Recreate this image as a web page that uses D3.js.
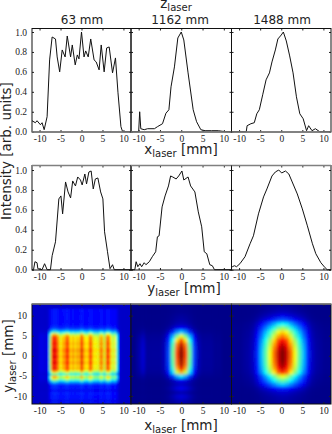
<!DOCTYPE html>
<html>
<head>
<meta charset="utf-8">
<script src="https://cdn.jsdelivr.net/npm/d3@7"></script>
<style>
  html, body { margin: 0; padding: 0; background: #fff; }
  svg { display: block; }
  .tick text { font-family: "Liberation Serif", serif; font-size: 9.5px; fill: #222; }
  .label { font-family: "DejaVu Sans", sans-serif; font-size: 13.5px; fill: #222; }
  .title { font-family: "DejaVu Sans", sans-serif; font-size: 12px; fill: #222; }
  .profile { fill: none; stroke: #111; stroke-width: 1; }
</style>
</head>
<body>
<script>
// horizontal profiles, top row
var x63 = [-11.8,-11,-10.6,-9.8,-9.4,-8.9,-8.2,-7.6,-7,-6.2,-5.8,-5.2,-4.6,-3.9,-3.4,-2.6,-2.2,-1.5,-1,-0.6,0,0.6,1,1.6,2.2,3,3.5,4.2,4.7,5.4,6,6.6,7.4,8.1,8.7,9.4,9.8,11.8];
var i63 = [0.11,0.09,0.11,0.07,0.09,0.02,0.15,0.72,0.95,0.93,0.75,0.6,0.82,0.75,0.96,0.75,0.87,0.67,0.77,0.73,1,0.75,0.81,0.75,0.93,0.72,0.7,0.62,0.87,0.6,0.84,0.85,0.59,0.74,0.39,0.05,0,0];
var x1162 = [-11.8,-10,-9.76,-9.5,-8.7,-7.9,-7.1,-6.3,-5.6,-4.4,-3.6,-2.9,-2.4,-1.6,-0.8,0,0.6,1.6,2.8,3.6,4.6,5.6,7.1,8.7,10.3,11.8];
var i1162 = [0,0,0.2,0.03,0.02,0.03,0.03,0.03,0.05,0.08,0.185,0.22,0.45,0.65,0.94,1,0.92,0.59,0.22,0.1,0.02,0.01,0.01,0.01,0,0];
var x1488 = [-11.8,-8.3,-8.1,-7.2,-6.4,-5.8,-5.2,-4.4,-3.6,-2.8,-2.2,-1.4,-0.8,0,0.5,1.2,2,2.8,3.6,4.4,5.2,6,6.5,7.3,8.1,9.1,11.8];
var i1488 = [0,0,0.06,0.08,0.09,0.18,0.22,0.37,0.52,0.59,0.7,0.82,0.93,0.97,1,0.91,0.76,0.59,0.35,0.18,0.13,0.01,0.06,0.01,0.03,0,0];

// vertical profiles, middle row
var y63 = [-11.8,-11.44,-11.1,-10.6,-10.4,-9.4,-8.8,-8.2,-7.4,-7,-6.2,-5.4,-4.9,-4.5,-3.8,-3.2,-2.6,-2.1,-1.44,-0.9,-0.24,0.16,0.8,1.2,1.76,2.3,2.8,3.3,3.9,4.56,5.1,5.5,6.2,6.8,7.4,7.8,11.8];
var j63 = [0,0,0.08,0.07,0.01,0,0.06,0,0,0.14,0.28,0.71,0.74,0.56,0.88,0.78,0.72,0.89,0.84,0.93,0.9,0.85,0.96,0.86,0.98,0.99,0.81,0.91,0.92,0.78,0.71,0.38,0.18,0.01,0.05,0,0];
var y1162 = [-11.8,-10.9,-10.6,-10.2,-9.7,-9.3,-8.7,-8.3,-7.5,-6.8,-6,-5.6,-5.2,-4.5,-3.8,-3,-2.5,-2,-1.2,-0.6,0.16,0.6,1.6,2.2,3.2,4,4.8,5.4,6,6.7,7.3,7.8,11.8];
var j1162 = [0,0,0.08,0.03,0.06,0.03,0.07,0.05,0.08,0.13,0.18,0.33,0.34,0.63,0.74,0.84,0.94,0.93,0.91,0.94,0.99,0.9,0.93,0.84,0.78,0.58,0.43,0.18,0.16,0.05,0.04,0,0];
var y1488 = [-11.8,-11.6,-11.1,-10.6,-9.8,-8.6,-7.4,-6.6,-5.4,-4.2,-3.4,-2.2,-1.4,-0.6,0.1,1,1.8,2.6,3.8,5,6.2,7.4,8.2,9.4,10.4,10.9,11.8];
var j1488 = [0.03,0.03,0.04,0.03,0.06,0.13,0.26,0.34,0.56,0.73,0.81,0.94,0.98,1,0.97,0.99,0.96,0.88,0.76,0.61,0.44,0.26,0.16,0.07,0.02,0,0];

var gridFine = [-11.5,-11,-10.5,-10,-9.5,-9,-8.5,-8,-7.5,-7,-6.5,-6,-5.5,-5,-4.5,-4,-3.5,-3,-2.5,-2,-1.5,-1,-0.5,0,0.5,1,1.5,2,2.5,3,3.5,4,4.5,5,5.5,6,6.5,7,7.5,8,8.5,9,9.5,10,10.5,11,11.5];
var gridCoarse = [-12,-11,-10,-9,-8,-7,-6,-5,-4,-3,-2,-1,0,1,2,3,4,5,6,7,8,9,10,11,12];
var col63 = [0,0,0,0.03,0.04,0.03,0.02,0.08,0.55,0.9,1,0.95,0.82,0.68,0.78,0.8,0.95,0.85,0.72,0.8,0.72,0.78,0.75,1,0.8,0.72,0.72,0.92,0.82,0.68,0.7,0.65,0.82,0.8,0.62,0.88,0.9,0.72,0.6,0.7,0.42,0.05,0,0,0,0,0];
var row63 = [0.1,0.04,0.1,0.08,0.1,0.1,0.05,0.1,0.1,0.12,0.25,0.42,0.6,0.66,0.4,0.6,0.74,0.83,0.78,0.82,0.85,0.8,0.82,0.86,0.8,0.83,0.85,0.82,0.78,0.82,0.8,0.78,0.78,0.74,0.62,0.38,0.22,0.12,0.1,0.08,0.08,0.08,0.08,0.08,0.08,0.08,0.08];
var col1162 = [0,0,0.03,0.07,0.02,0.02,0.02,0.02,0.05,0.18,0.47,0.8,1,0.8,0.47,0.18,0.05,0.02,0.02,0.02,0.01,0.01,0,0,0];
var row1162 = [0.03,0.05,0.08,0.04,0.1,0.06,0.1,0.35,0.7,0.88,0.95,0.97,1,1,0.97,0.92,0.8,0.6,0.32,0.12,0.05,0.03,0.02,0.01,0.01];
var col1488 = [0.01,0.01,0.01,0.02,0.03,0.06,0.15,0.3,0.45,0.6,0.76,0.92,1,0.92,0.76,0.6,0.45,0.3,0.15,0.06,0.03,0.02,0.01,0.01,0.01];
var row1488 = [0.02,0.03,0.04,0.07,0.15,0.32,0.47,0.6,0.83,0.92,0.97,0.99,1,1,0.97,0.92,0.86,0.75,0.66,0.52,0.375,0.2,0.1,0.05,0.03];

var titles = ["63 mm", "1162 mm", "1488 mm"];
var xTicks = [-10, -5, 0, 5, 10];
var intensityTicks = [0, 0.2, 0.4, 0.6, 0.8, 1];
var imageTicks = [-10, -5, 0, 5, 10];
var jetStops = ["#00007f", "#0000ff", "#00ffff", "#ffff00", "#ff0000", "#7f0000"];

var svg = d3.select("body").append("svg")
    .attr("width", 332)
    .attr("height", 434);

// set the panel columns and rows
var colLeft = [32, 131, 231.5],
    colRight = [131, 231.5, 331],
    rowTop = [28.5, 165.5, 304],
    rowBottom = [132, 270, 404];

var jet = d3.scaleLinear()
    .domain([0, 0.125, 0.375, 0.625, 0.875, 1])
    .range(jetStops)
    .clamp(true);

function xScale(c) {
  return d3.scaleLinear().domain([-11.8, 11.8]).range([colLeft[c], colRight[c]]);
}

// plain hyphen in the negative labels, as in the original
function plain(d) { return String(d); }

// ticks point into the panel on all four sides
function frame(c, r, x, y, yTicks, showY) {
  var g = svg.append("g");
  var h = rowBottom[r] - rowTop[r], w = colRight[c] - colLeft[c];

  g.append("g").attr("transform", "translate(0," + rowBottom[r] + ")")
      .call(d3.axisBottom(x).tickValues(xTicks).tickFormat(plain).tickSizeInner(-2).tickSizeOuter(0).tickPadding(3));
  g.append("g").attr("transform", "translate(0," + rowTop[r] + ")")
      .call(d3.axisTop(x).tickValues(xTicks).tickFormat("").tickSizeInner(-2).tickSizeOuter(0));
  var left = d3.axisLeft(y).tickValues(yTicks).tickSizeInner(-2).tickSizeOuter(0).tickPadding(5);
  left.tickFormat(showY ? (r == 2 ? plain : d3.format(".1f")) : "");
  g.append("g").attr("transform", "translate(" + colLeft[c] + ",0)").call(left);
  g.append("g").attr("transform", "translate(" + colRight[c] + ",0)")
      .call(d3.axisRight(y).tickValues(yTicks).tickFormat("").tickSizeInner(-2).tickSizeOuter(0));

  g.selectAll(".domain").remove();
  g.selectAll(".tick line").attr("stroke", "#222");

  g.append("rect")
      .attr("x", colLeft[c]).attr("y", rowTop[r])
      .attr("width", w).attr("height", h)
      .attr("fill", "none").attr("stroke", "#111").attr("stroke-width", 1);

  // the original has washed out grey edges here
  var greyY = r == 0 ? rowBottom[r] : rowTop[r];
  g.append("line")
      .attr("x1", colLeft[c]).attr("x2", colRight[c])
      .attr("y1", greyY).attr("y2", greyY)
      .attr("stroke", "#808080").attr("stroke-width", 1.5);
}

function profile(c, r, xs, vals) {
  var x = xScale(c);
  var y = d3.scaleLinear().domain([0, 1]).range([rowBottom[r] - 0.3, rowBottom[r] - 100]);
  var line = d3.line()
      .x(function(d, i) { return x(xs[i]); })
      .y(function(d) { return y(d); });
  svg.append("path")
      .datum(vals)
      .attr("class", "profile")
      .attr("d", line);
  frame(c, r, x, y, intensityTicks, c == 0);
}

profile(0, 0, x63, i63);
profile(1, 0, x1162, i1162);
profile(2, 0, x1488, i1488);
profile(0, 1, y63, j63);
profile(1, 1, y1162, j1162);
profile(2, 1, y1488, j1488);

// beam images, column times row on top of a floor colour
var defs = svg.append("defs");

function image(c, gridX, gridY, cols, rows, floor, blur, shiftX) {
  var x = xScale(c);
  var y = d3.scaleLinear().domain([-12, 12.9]).range([rowBottom[2], rowTop[2]]);
  var w = colRight[c] - colLeft[c], h = rowBottom[2] - rowTop[2];

  defs.append("clipPath").attr("id", "clip" + c)
    .append("rect").attr("x", colLeft[c]).attr("y", rowTop[2]).attr("width", w).attr("height", h);
  defs.append("filter").attr("id", "blur" + c)
      .attr("filterUnits", "userSpaceOnUse")
      .attr("x", colLeft[c] - 10).attr("y", rowTop[2] - 10)
      .attr("width", w + 20).attr("height", h + 20)
    .append("feGaussianBlur").attr("stdDeviation", blur);

  var holder = svg.append("g").attr("clip-path", "url(#clip" + c + ")");
  holder.append("rect")
      .attr("x", colLeft[c]).attr("y", rowTop[2]).attr("width", w).attr("height", h)
      .attr("fill", jet(floor));

  var cells = [];
  gridY.forEach(function(gy, j) {
    gridX.forEach(function(gx, i) {
      cells.push({x: gx, y: gy, v: floor + cols[i] * rows[j]});
    });
  });

  var cw = x(gridX[1]) - x(gridX[0]), ch = y(gridY[0]) - y(gridY[1]);
  holder.append("g").attr("filter", "url(#blur" + c + ")")
    .selectAll("rect")
    .data(cells)
    .enter().append("rect")
      .attr("x", function(d) { return x(d.x + shiftX) - cw / 2; })
      .attr("y", function(d) { return y(d.y) - ch / 2; })
      .attr("width", cw + 0.5)
      .attr("height", ch + 0.5)
      .attr("fill", function(d) { return jet(d.v); });

  frame(c, 2, x, y, imageTicks, c == 0);
}

image(0, gridFine, gridFine, col63, row63, 0.07, 0.9, 0);
image(1, gridCoarse, gridCoarse, col1162, row1162, 0.01, 1.4, 0);
image(2, gridCoarse, gridCoarse, col1488, row1488, 0.01, 1.8, 0.3);

// panel titles
var titleX = [82, 180, 282];
svg.selectAll(".title")
    .data(titles)
  .enter().append("text")
    .attr("class", "title")
    .attr("x", function(d, i) { return titleX[i]; })
    .attr("y", 24)
    .style("text-anchor", "middle")
    .text(function(d) { return d; });

// text with a subscript part
function subLabel(px, py, angle, main, sub, rest) {
  var t = svg.append("text")
      .attr("class", "label")
      .attr("transform", "translate(" + px + "," + py + ") rotate(" + angle + ")")
      .style("text-anchor", "middle");
  t.append("tspan").text(main);
  t.append("tspan").attr("dy", 3).style("font-size", "10px").text(sub);
  if (rest) t.append("tspan").attr("dy", -3).text(rest);
}

subLabel(176, 8, 0, "z", "laser", "");
subLabel(181, 154, 0, "x", "laser", " [mm]");
subLabel(184, 293, 0, "y", "laser", " [mm]");
subLabel(181, 430, 0, "x", "laser", " [mm]");
subLabel(13, 356, -90, "y", "laser", " [mm]");

svg.append("text")
    .attr("class", "label")
    .attr("transform", "translate(11,151) rotate(-90)")
    .style("text-anchor", "middle")
    .text("Intensity [arb. units]");
</script>
</body>
</html>
